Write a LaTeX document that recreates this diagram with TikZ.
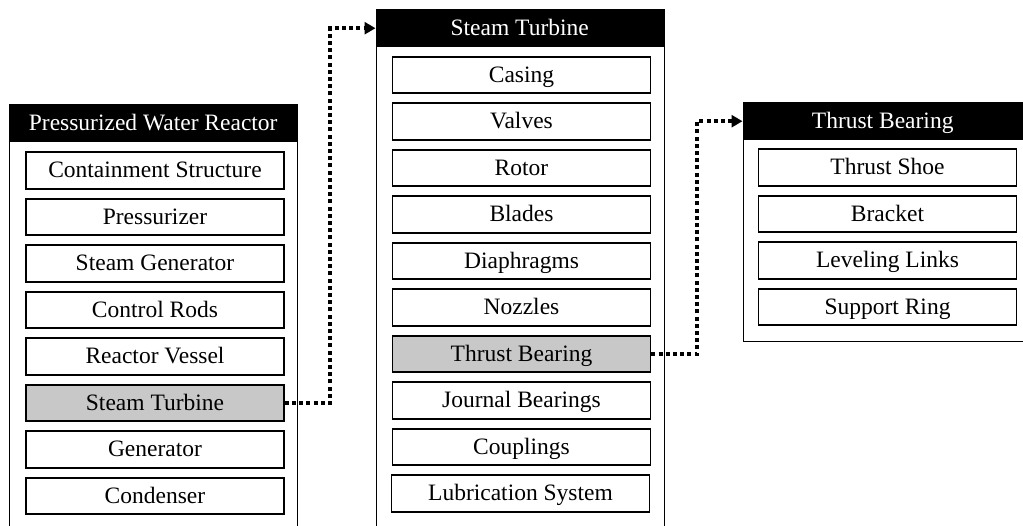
\documentclass[tikz,border=0pt]{standalone}
\usepackage{fontspec}
\setmainfont{Liberation Serif}
\usetikzlibrary{arrows.meta}
\definecolor{selgray}{RGB}{200,200,200}
\begin{document}
\begin{tikzpicture}[x=1pt,y=-1pt,
  panel/.style={draw=black, line width=1.3pt, fill=white, inner sep=0pt, anchor=north west},
  head/.style={fill=black, text=white, inner sep=0pt, anchor=north west, minimum height=38pt,
    text height=16pt, text depth=2pt, font=\fontsize{23.5}{28}\selectfont},
  item/.style={draw=black, line width=1.6pt, fill=white, minimum width=258pt, minimum height=36.5pt,
    inner sep=0pt, text height=16pt, text depth=2pt, font=\fontsize{23.5}{28}\selectfont},
  sel/.style={item, fill=selgray},
  link/.style={line width=3.5pt, dash pattern=on 4pt off 3.2pt,
    -{Triangle[length=11pt,width=12pt]}}
]
\useasboundingbox (0,0) rectangle (1023,525);
\clip (0,0) rectangle (1023,525);

% Pressurized Water Reactor column
\node[panel, minimum width=288pt, minimum height=460pt] (pwr) at (9,104) {};
\node[head, minimum width=288pt] (pwrhead) at (pwr.north west) {Pressurized Water Reactor};
\foreach \t [count=\i from 0] in {Containment Structure, Pressurizer, Steam Generator,
    Control Rods, Reactor Vessel}
  \node[item] (pwr\i) at (155, 170.5+46.5*\i) {\t};
\node[sel]  (pwr5) at (155, 403) {Steam Turbine};
\node[item] (pwr6) at (155, 449.5) {Generator};
\node[item] (pwr7) at (155, 496) {Condenser};

% Steam Turbine column
\node[panel, minimum width=288pt, minimum height=560pt] (st) at (375.5,9) {};
\node[head, minimum width=288pt] (sthead) at (st.north west) {Steam Turbine};
\foreach \t [count=\i from 0] in {Casing, Valves, Rotor, Blades, Diaphragms, Nozzles}
  \node[item] (st\i) at (521.5, 75+46.5*\i) {\t};
\node[sel]  (st6) at (521.5, 354) {Thrust Bearing};
\node[item] (st7) at (521.5, 400.5) {Journal Bearings};
\node[item] (st8) at (521.5, 447) {Couplings};
\node[item] (st9) at (520.5, 493.5) {Lubrication System};

% Thrust Bearing column
\node[panel, minimum width=280pt, minimum height=239pt] (tb) at (742.5,102) {};
\node[head, minimum width=280pt] (tbhead) at (tb.north west) {Thrust Bearing};
\foreach \t [count=\i from 0] in {Thrust Shoe, Bracket, Leveling Links, Support Ring}
  \node[item] (tb\i) at (887.5, 167.5+46.5*\i) {\t};

% Drill-down links
\coordinate (bend1) at (330, 0);
\coordinate (bend2) at (697, 0);
\draw[link] (pwr5.east) -- (pwr5.east -| bend1) -- (sthead.west -| bend1) -- (sthead.west);
\draw[link] (st6.east) -- (st6.east -| bend2) -- (tbhead.west -| bend2) -- (tbhead.west);
\end{tikzpicture}
\end{document}
